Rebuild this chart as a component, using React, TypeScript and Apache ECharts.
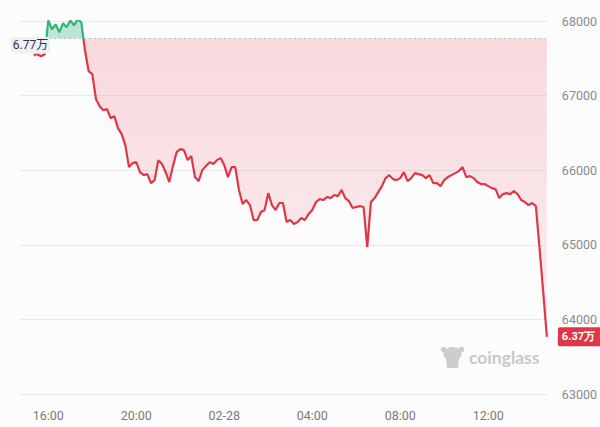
import React, { useEffect, useRef } from 'react';
import * as echarts from 'echarts';

// minutes since 02-27 00:00
const startMinute = 920;
const stepMinutes = 10;
const prices = [
  67541, 67554, 67527, 67554, 68009, 67889, 67956, 67849, 67969, 67916,
  68009, 67942, 68023, 67983, 67608, 67327, 67287, 66952, 66858, 66805,
  66818, 66697, 66724, 66564, 66483, 66336, 66042, 66095, 66108, 65975,
  65934, 65948, 65827, 65867, 66135, 66082, 65975, 65841, 66055, 66242,
  66282, 66269, 66135, 66189, 65908, 65854, 66001, 66055, 66108, 66082,
  66135, 66162, 66068, 65908, 66042, 66042, 65734, 65546, 65600, 65533,
  65332, 65332, 65439, 65466, 65693, 65533, 65466, 65560, 65560, 65305,
  65332, 65278, 65305, 65359, 65332, 65412, 65466, 65573, 65613, 65600,
  65640, 65626, 65667, 65653, 65734, 65626, 65586, 65493, 65506, 65519,
  65506, 64970, 65573, 65626, 65707, 65787, 65894, 65934, 65881, 65867,
  65894, 65975, 65854, 65894, 65961, 65948, 65934, 65894, 65934, 65827,
  65827, 65787, 65867, 65908, 65934, 65961, 65988, 66042, 65908, 65921,
  65894, 65841, 65814, 65814, 65787, 65760, 65747, 65626, 65680, 65693,
  65680, 65720, 65680, 65600, 65573, 65533, 65560, 65519, 64957, 64368,
  63766,
];
const baseline = 67765;
const yMin = 63000;
const yMax = 68000;
const yStep = 1000;
const xMin = 880;
const xMax = 2320;
const xTickStep = 40;
const xLabelTimes = [960, 1200, 1440, 1680, 1920, 2160];
const xLabelTexts = ['16:00', '20:00', '02-28', '04:00', '08:00', '12:00'];

const RED = '#de3848';
const GREEN = '#2fb577';
const GRID_TOP = 21;
const GRID_BOTTOM = 33;
const GRID_LEFT = 19;
const GRID_RIGHT = 53;
const H = 427;

const wan = (v: number) => (Math.floor(v / 100) / 100).toFixed(2) + '万';

export default function App() {
  const ref = useRef<HTMLDivElement>(null);
  useEffect(() => {
    if (!ref.current) return;
    const chart = echarts.init(ref.current, undefined, { renderer: 'svg' });
    const gridH = H - GRID_TOP - GRID_BOTTOM;
    const t = (yMax - baseline) / (yMax - yMin);
    const py = GRID_TOP + t * gridH;
    const data = prices.map((p, i) => [startMinute + i * stepMinutes, p]);
    const font = 'Roboto, "Noto Sans", sans-serif';
    const splitGrad = (above: string, belowTop: string, belowBottom: string) => ({
      type: 'linear',
      x: 0,
      y: GRID_TOP,
      x2: 0,
      y2: GRID_TOP + gridH,
      global: true,
      colorStops: [
        { offset: 0, color: above },
        { offset: t, color: above },
        { offset: t, color: belowTop },
        { offset: 1, color: belowBottom },
      ],
    });
    chart.setOption({
      animation: false,
      backgroundColor: '#fcfcfc',
      grid: { left: GRID_LEFT, right: GRID_RIGHT, top: GRID_TOP, bottom: GRID_BOTTOM },
      xAxis: {
        type: 'value',
        min: xMin,
        max: xMax,
        interval: xTickStep,
        axisLine: { show: false },
        axisTick: { show: false },
        splitLine: { show: false },
        axisLabel: {
          margin: 15,
          color: '#7a7a7a',
          fontSize: 12.5,
          fontFamily: font,
          formatter: (v: number) => {
            const i = xLabelTimes.indexOf(v);
            return i >= 0 ? xLabelTexts[i] : '';
          },
        },
      },
      yAxis: {
        type: 'value',
        position: 'right',
        min: yMin,
        max: yMax,
        interval: yStep,
        axisLine: { show: false },
        axisTick: { show: false },
        splitLine: { lineStyle: { color: '#e9e9e9', width: 1 } },
        axisLabel: {
          margin: 15,
          color: '#8a8a8a',
          fontSize: 12.5,
          fontFamily: font,
          formatter: (v: number) => String(v),
        },
      },
      series: [
        {
          type: 'line',
          data,
          showSymbol: false,
          lineStyle: { width: 2.2, color: splitGrad(GREEN, RED, RED) },
          itemStyle: { color: RED },
          areaStyle: {
            origin: baseline,
            color: splitGrad('rgba(47,181,119,0.45)', 'rgba(232,72,92,0.28)', 'rgba(232,72,92,0.07)'),
          },
          endLabel: {
            show: true,
            distance: 11,
            formatter: (p: any) => wan(p.value[1]),
            backgroundColor: RED,
            color: '#fff',
            fontSize: 11,
            fontWeight: 'bold',
            fontFamily: font,
            padding: [4, 8, 4, 4],
            borderRadius: 2,
          },
          markLine: {
            silent: true,
            symbol: 'none',
            label: { show: false },
            lineStyle: { color: '#c4c4c4', type: [2, 3], width: 1 },
            data: [{ yAxis: baseline }],
          },
        },
      ],
      graphic: [
        {
          type: 'group',
          z: 1,
          children: [
            { type: 'ellipse', shape: { cx: 452.5, cy: 354, rx: 9, ry: 7 }, style: { fill: '#cdcdcd' } },
            { type: 'circle', shape: { cx: 443.5, cy: 349.5, r: 2.8 }, style: { fill: '#cdcdcd' } },
            { type: 'circle', shape: { cx: 461.5, cy: 349.5, r: 2.8 }, style: { fill: '#cdcdcd' } },
            { type: 'rect', shape: { x: 446.5, y: 357, width: 12, height: 11, r: 2 }, style: { fill: '#cdcdcd' } },
            {
              type: 'text',
              style: {
                text: 'coinglass',
                x: 469,
                y: 357,
                fill: '#c8c8c8',
                font: 'bold 17.5px Lato, "Noto Sans", sans-serif',
                textVerticalAlign: 'middle',
              },
            },
          ],
        },
        {
          type: 'group',
          z: 100,
          children: [
            {
              type: 'rect',
              z: 100,
              shape: { x: 11, y: py - 1.5, width: 39, height: 16.5, r: 3 },
              style: { fill: '#eef0f3' },
            },
            {
              type: 'text',
              z: 101,
              style: {
                text: wan(baseline),
                x: 30.5,
                y: py + 6.8,
                fill: '#333',
                font: '12px Roboto, "Noto Sans CJK SC", sans-serif',
                textAlign: 'center',
                textVerticalAlign: 'middle',
              },
            },
          ],
        },
      ],
    });
    return () => chart.dispose();
  }, []);
  return (
    <div
      ref={ref}
      style={{ position: 'absolute', left: 0, top: 0, width: 600, height: 427 }}
    />
  );
}
